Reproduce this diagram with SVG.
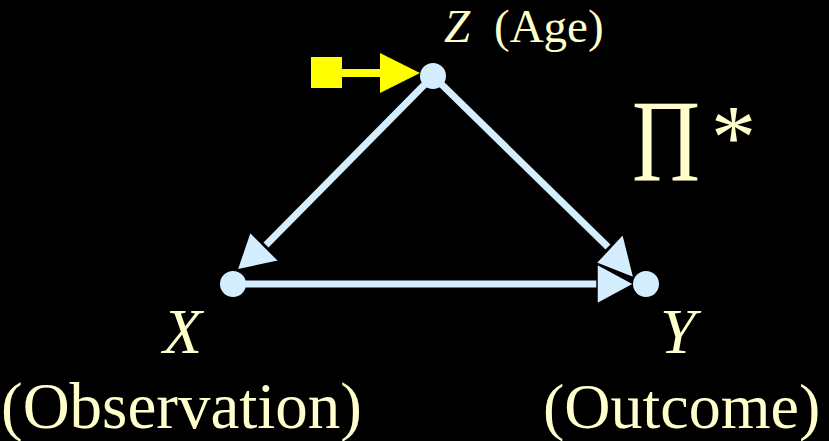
<svg xmlns="http://www.w3.org/2000/svg" width="829" height="441" viewBox="0 0 829 441">
<defs>
<style>
.t{font-family:"Liberation Serif","Times New Roman",serif;fill:#FFFFCC}
.i{font-style:italic}
.edge{stroke:#D4EEFF;stroke-width:7;fill:none}
.head{fill:#D4EEFF;stroke:#000;stroke-width:1.5;stroke-linejoin:miter}
.node{fill:#D4EEFF}
</style>
</defs>
<rect width="829" height="441" fill="#000"/>
<g id="connectors">
<line class="edge" x1="233" y1="284" x2="600" y2="284"/>
<polygon class="head" points="634,284 597,264 597,304"/>
<line class="edge" x1="433" y1="76" x2="266" y2="245"/>
<polygon class="head" points="237,270 250,232 279,261"/>
<line class="edge" x1="433" y1="76" x2="608" y2="247"/>
<polygon class="head" points="634,278 623,234 596,263"/>
</g>
<g id="intervention">
<rect x="311" y="57" width="31" height="31" fill="#FFFF00"/>
<line x1="340" y1="73" x2="382" y2="73" stroke="#FFFF00" stroke-width="8"/>
<polygon points="380,53 420,73 380,93" fill="#FFFF00"/>
</g>
<g id="nodeZ">
<circle class="node" cx="433" cy="76" r="13"/>
<text class="t i" x="444" y="42" font-size="47">Z</text>
<text class="t" x="494" y="42" font-size="47">(Age)</text>
</g>
<g id="nodeX">
<circle class="node" cx="233" cy="284" r="13"/>
<text class="t i" x="163" y="353" font-size="64">X</text>
<text class="t" x="1" y="428" font-size="65">(Observation)</text>
</g>
<g id="nodeY">
<circle class="node" cx="646" cy="284" r="13"/>
<text class="t i" x="660" y="353" font-size="64">Y</text>
<text class="t" x="543" y="428" font-size="64">(Outcome)</text>
</g>
<g id="label">
<text class="t" x="632" y="180" font-size="116"><tspan textLength="68" lengthAdjust="spacingAndGlyphs">Π</tspan><tspan x="711" y="168" font-size="90">*</tspan></text>
</g>
</svg>
